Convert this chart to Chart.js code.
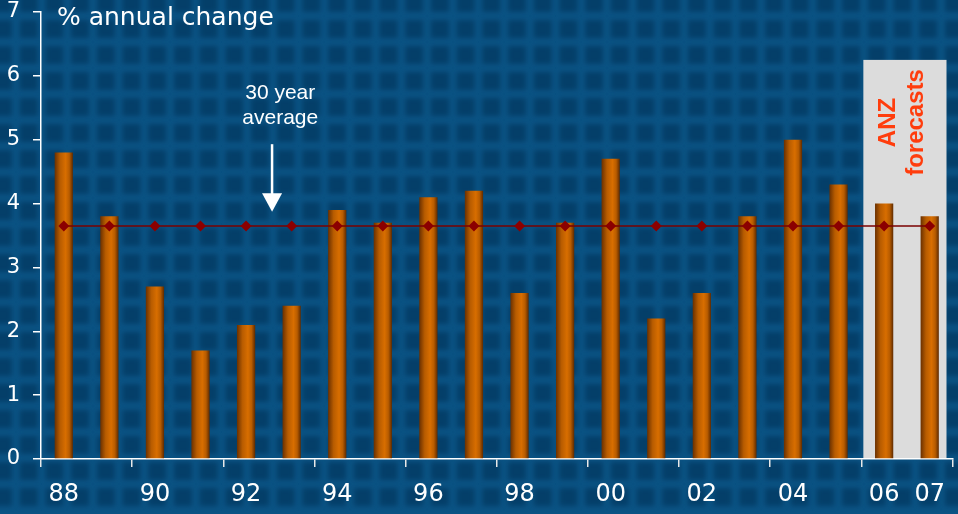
<!DOCTYPE html>
<html>
<head>
<meta charset="utf-8">
<script src="https://cdn.jsdelivr.net/npm/chart.js@4.4.1/dist/chart.umd.min.js"></script>
<style>
html, body { margin: 0; padding: 0; background: #0a4d7c; }
#wrap { width: 958px; height: 514px; position: relative; }
</style>
</head>
<body>
<div id="wrap"><canvas id="myChart" width="958" height="514"></canvas></div>
<script>
// dados do grafico
const years = ['88','89','90','91','92','93','94','95','96','97','98','99','00','01','02','03','04','05','06','07'];
const tickLabels = ['88','','90','','92','','94','','96','','98','','00','','02','','04','','06','07'];
const growth = [4.8, 3.8, 2.7, 1.7, 2.1, 2.4, 3.9, 3.7, 4.1, 4.2, 2.6, 3.7, 4.7, 2.2, 2.6, 3.8, 5.0, 4.3, 4.0, 3.8];
const average30 = [3.65, 3.65, 3.65, 3.65, 3.65, 3.65, 3.65, 3.65, 3.65, 3.65, 3.65, 3.65, 3.65, 3.65, 3.65, 3.65, 3.65, 3.65, 3.65, 3.65];
const forecastYears = ['06', '07'];
const forecastTop = 6.25;

// fundo azul quadriculado
const bgPlugin = {
    id: 'bgGrid',
    beforeDraw(chart) {
        const c = chart.ctx;
        c.save();
        c.fillStyle = '#0b5384';
        c.fillRect(0, 0, chart.width, chart.height);
        c.filter = 'blur(2.5px)';
        c.fillStyle = '#043f69';
        for (let x = -6; x < chart.width; x += 25.7) {
            for (let y = -6; y < chart.height; y += 26) {
                c.fillRect(x, y, 18, 18);
            }
        }
        c.restore();
    }
};

// caixa cinza das previsoes
const forecastPlugin = {
    id: 'forecastBox',
    beforeDatasetsDraw(chart) {
        const xs = chart.scales.x, ys = chart.scales.y;
        const i0 = years.indexOf(forecastYears[0]);
        const i1 = years.indexOf(forecastYears[forecastYears.length - 1]);
        const half = (xs.getPixelForValue(1) - xs.getPixelForValue(0)) / 2;
        const left = xs.getPixelForValue(i0) - half + 2;
        const right = xs.getPixelForValue(i1) + half - 6;
        const top = ys.getPixelForValue(forecastTop);
        const bottom = ys.getPixelForValue(0) - 1;
        const c = chart.ctx;
        c.save();
        c.fillStyle = '#dcdcdc';
        c.fillRect(left, top, right - left, bottom - top);
        c.restore();
    },
    afterDraw(chart) {
        const xs = chart.scales.x, ys = chart.scales.y;
        const c = chart.ctx;
        c.save();
        c.fillStyle = '#ff3d0d';
        c.font = 'bold 24px "Liberation Sans", Arial, sans-serif';
        c.textAlign = 'center';
        c.textBaseline = 'middle';
        const yc = ys.getPixelForValue(5.27);
        [['ANZ', 18.07], ['forecasts', 18.68]].forEach(function (t) {
            c.save();
            c.translate(xs.getPixelForValue(t[1]), yc);
            c.rotate(-Math.PI / 2);
            c.fillText(t[0], 0, 1);
            c.restore();
        });
        c.restore();
    }
};

// textos e seta
const notesPlugin = {
    id: 'notes',
    afterDraw(chart) {
        const xs = chart.scales.x, ys = chart.scales.y;
        const c = chart.ctx;
        c.save();
        c.fillStyle = '#ffffff';
        c.font = '25px "DejaVu Sans", Verdana, sans-serif';
        c.textAlign = 'left';
        c.textBaseline = 'alphabetic';
        c.fillText('% annual change', 57, 25);

        c.font = '21px "Liberation Sans", Arial, sans-serif';
        c.textAlign = 'center';
        c.textBaseline = 'middle';
        const tx = xs.getPixelForValue(4.75);
        c.fillText('30 year', tx, ys.getPixelForValue(5.73));
        c.fillText('average', tx, ys.getPixelForValue(5.34));

        const ax = xs.getPixelForValue(4.57);
        const yTop = ys.getPixelForValue(4.93);
        const yHead = ys.getPixelForValue(4.16);
        const yTip = ys.getPixelForValue(3.87);
        c.strokeStyle = '#ffffff';
        c.lineWidth = 2.5;
        c.beginPath();
        c.moveTo(ax, yTop);
        c.lineTo(ax, yHead + 1);
        c.stroke();
        c.beginPath();
        c.moveTo(ax - 10, yHead);
        c.lineTo(ax + 10, yHead);
        c.lineTo(ax, yTip);
        c.closePath();
        c.fill();
        c.restore();
    }
};

function barFill(context) {
    const chart = context.chart;
    const xs = chart.scales.x;
    if (!chart.chartArea || !xs) return '#c86400';
    const cx = xs.getPixelForValue(context.dataIndex);
    const w = xs.width / years.length * 0.4;
    const g = chart.ctx.createLinearGradient(cx - w / 2, 0, cx + w / 2, 0);
    g.addColorStop(0, '#6a3000');
    g.addColorStop(0.3, '#b85c00');
    g.addColorStop(0.6, '#d86e00');
    g.addColorStop(0.8, '#b85c00');
    g.addColorStop(1, '#5e2a00');
    return g;
}

const ctx = document.getElementById('myChart').getContext('2d');
const myChart = new Chart(ctx, {
    type: 'bar',
    data: {
        labels: years,
        datasets: [{
            type: 'line',
            label: '30 year average',
            data: average30,
            borderColor: '#7a0000',
            borderWidth: 1.5,
            pointStyle: 'rectRot',
            pointRadius: 5.5,
            pointBackgroundColor: '#8b0000',
            pointBorderColor: '#8b0000',
            pointBorderWidth: 0,
            tension: 0,
            order: 0
        }, {
            label: '% annual change',
            data: growth,
            backgroundColor: barFill,
            borderWidth: 0,
            barPercentage: 0.4,
            categoryPercentage: 1,
            order: 1
        }]
    },
    options: {
        responsive: false,
        animation: false,
        devicePixelRatio: 1,
        layout: { padding: { top: 12, right: 3, left: 0, bottom: 0 } },
        plugins: {
            legend: { display: false },
            tooltip: { enabled: false }
        },
        scales: {
            x: {
                afterFit: function (s) { s.height = 55; s.paddingLeft = 0; s.paddingRight = 0; },
                border: { color: '#ffffff', width: 1.5 },
                grid: {
                    offset: true,
                    drawOnChartArea: false,
                    tickLength: 8,
                    lineWidth: 1.5,
                    color: function (c) {
                        return (c.index === undefined || c.index % 2 === 0) ? '#e8e8e8' : 'rgba(0,0,0,0)';
                    }
                },
                ticks: {
                    autoSkip: false,
                    maxRotation: 0,
                    padding: 13,
                    color: '#ffffff',
                    font: { family: '"DejaVu Sans", Verdana, sans-serif', size: 24 },
                    callback: function (v, i) { return tickLabels[i]; }
                }
            },
            y: {
                min: 0,
                max: 7,
                afterFit: function (s) { s.width = 41; s.paddingTop = 0; s.paddingBottom = 0; },
                border: { color: '#ffffff', width: 1.5 },
                grid: {
                    drawOnChartArea: false,
                    tickLength: 8,
                    lineWidth: 1.5,
                    color: '#ffffff'
                },
                ticks: {
                    stepSize: 1,
                    padding: 13,
                    color: '#ffffff',
                    font: { family: '"DejaVu Sans", Verdana, sans-serif', size: 21, lineHeight: 1 }
                }
            }
        }
    },
    plugins: [bgPlugin, forecastPlugin, notesPlugin]
});
</script>
</body>
</html>
